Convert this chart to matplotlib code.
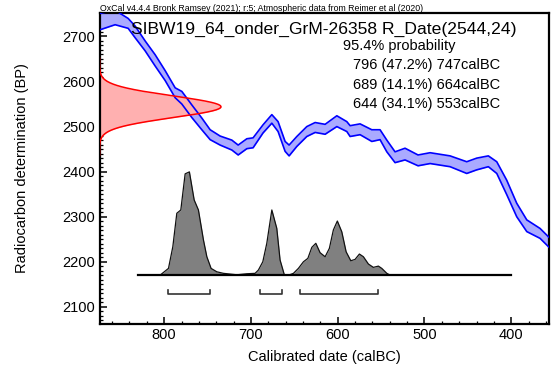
import numpy as np
import matplotlib
matplotlib.use("Agg")
import matplotlib.pyplot as plt
from matplotlib.ticker import MultipleLocator

plt.rcParams['font.family'] = ['Liberation Sans', 'DejaVu Sans']

# Calibration curve (IntCal20 segment): calendar date (calBC), mean BP, 1-sigma
curve_date = [874, 872, 856.5, 841.5, 833.4, 821.9, 810.4, 798.8, 787.3, 779.6,
              768.1, 756.6, 747.0, 735.5, 722.0, 714.7, 704.7, 697.5, 686.0, 675.9,
              668.7, 660.6, 656.0, 647.1, 635.6, 626.0, 614.5, 601.0, 589.5, 585.7,
              574.2, 560.7, 551.2, 543.4, 533.9, 522.4, 507.4, 493.5, 470.5, 451.3,
              439.8, 426.4, 416.7, 405.2, 393.7, 382.1, 366.8, 355.3]
curve_bp = [2733, 2734, 2742, 2729, 2710, 2679, 2647, 2613, 2575, 2564,
            2534, 2506, 2482, 2469, 2459, 2448, 2462, 2464, 2495, 2517,
            2500, 2456, 2447, 2467, 2489, 2498, 2494, 2512, 2500, 2490,
            2494, 2480, 2482, 2457, 2432, 2439, 2425, 2430, 2423, 2409,
            2417, 2423, 2409, 2365, 2315, 2280, 2263, 2241]
curve_sigma = [18, 18, 16, 11, 13, 11, 12.5, 11, 11, 14,
               14, 13, 11, 10, 11, 11, 11, 11, 9, 9.5,
               11, 11, 12, 11, 11, 11, 11, 12, 11, 12,
               12, 13, 11, 13, 12, 13, 12, 12, 12, 13,
               13, 12, 13, 16, 15, 13, 11, 11]

# Radiocarbon measurement
r_date = 2544
r_error = 24

# Calibrated probability distribution (relative)
post_date = [830, 804.6, 795.0, 790.0, 785.4, 780.8, 775.8, 770.9, 765.4, 760.5,
             754.7, 750.8, 745.9, 739.3, 731.7, 716.2, 704.7, 695.2, 691.4, 686.3,
             681.7, 675.9, 670.2, 666.4, 661.4, 654.8, 651.0, 645.3, 639.5, 634.4,
             629.8, 625.2, 620.3, 614.5, 609.6, 605.0, 600.4, 595.3, 590.3, 584.9,
             580.0, 575.0, 570.4, 564.6, 558.9, 553.1, 549.2, 543.4, 539.6, 400]
post_prob = [0.0, 0.0, 0.065, 0.275, 0.599, 0.631, 0.981, 1.0, 0.728, 0.631,
             0.340, 0.178, 0.065, 0.032, 0.017, 0.003, 0.013, 0.017, 0.049, 0.129,
             0.308, 0.631, 0.453, 0.146, 0.0, 0.005, 0.017, 0.065, 0.129, 0.162,
             0.269, 0.308, 0.217, 0.178, 0.259, 0.437, 0.524, 0.420, 0.226, 0.139,
             0.152, 0.204, 0.178, 0.107, 0.075, 0.087, 0.065, 0.017, 0.0, 0.0]

# 95.4% ranges: (from, percentage, to)
range_from = [796, 689, 644]
range_pct = [47.2, 14.1, 34.1]
range_to = [747, 664, 553]

W, H = 551, 383
fig = plt.figure(figsize=(W / 100, H / 100), dpi=100)
ax = fig.add_axes([99.5 / W, 1 - 324 / H, (549 - 99.5) / W, (324 - 13) / H])

xmin, xmax = 874.5, 356.5
ymin, ymax = 2062, 2752
ax.set_xlim(xmin, xmax)
ax.set_ylim(ymin, ymax)

# calibration curve band
cd = np.array(curve_date)
cb = np.array(curve_bp)
cs = np.array(curve_sigma)
ax.fill_between(cd, cb - cs, cb + cs, color='#aaaaff', lw=0, zorder=2)
ax.plot(cd, cb + cs, color='#0000ff', lw=1.2, zorder=3)
ax.plot(cd, cb - cs, color='#0000ff', lw=1.2, zorder=3)

# measurement distribution on the BP axis
yy = np.linspace(r_date - 4.5 * r_error, r_date + 4.5 * r_error, 300)
g = np.exp(-0.5 * ((yy - r_date) / r_error) ** 2)
width = 140.0
ax.fill_betweenx(yy, xmin, xmin - width * g, color='#ffb0b0', lw=0, zorder=2.5)
ax.plot(xmin - width * g, yy, color='#ff0000', lw=1.1, zorder=3.5)

# calibrated distribution
base = 2170.5
height = 229
pd_ = np.array(post_date)
pp = np.array(post_prob)
ax.fill_between(pd_, base, base + height * pp, color='#808080', lw=0, zorder=4)
ax.plot(pd_, base + height * pp, color='#111111', lw=0.9, zorder=5)
ax.plot([post_date[0], post_date[-1]], [base, base], color='black', lw=1.6, zorder=5)

# range brackets
yb = 2128
tick = 10
for a, b in zip(range_from, range_to):
    ax.plot([a, a, b, b], [yb + tick, yb, yb, yb + tick], color='#333333', lw=1.2, zorder=5)

# axes styling
for s in ax.spines.values():
    s.set_linewidth(1.6)
ax.xaxis.set_major_locator(MultipleLocator(100))
ax.xaxis.set_minor_locator(MultipleLocator(20))
ax.yaxis.set_major_locator(MultipleLocator(100))
ax.yaxis.set_minor_locator(MultipleLocator(10))
ax.tick_params(which='major', direction='in', length=5, width=1.1, labelsize=10.5, pad=3)
ax.tick_params(which='minor', direction='in', length=2.5, width=0.9)
ax.tick_params(top=False, right=False)

ax.set_xlabel('Calibrated date (calBC)', fontsize=10.5, labelpad=6)
ax.set_ylabel('Radiocarbon determination (BP)', fontsize=10.5, labelpad=24)

fig.text(100 / W, 1 - 11 / H, 'OxCal v4.4.4 Bronk Ramsey (2021); r:5; Atmospheric data from Reimer et al (2020)',
         fontsize=6.35, ha='left', va='baseline')
ax.text(131 / W, 1 - 34 / H, 'SIBW19_64_onder_GrM-26358 R_Date(2544,24)',
        transform=fig.transFigure, fontsize=12.6, ha='left', va='baseline', zorder=6)
fig.text(343 / W, 1 - 50 / H, '95.4% probability', fontsize=10.5, ha='left', va='baseline')
for i, (a, p, b) in enumerate(zip(range_from, range_pct, range_to)):
    fig.text(353 / W, 1 - (69 + 19.5 * i) / H, f'{a} ({p}%) {b}calBC',
             fontsize=10.5, ha='left', va='baseline')

fig.savefig('out.png', dpi=100)
